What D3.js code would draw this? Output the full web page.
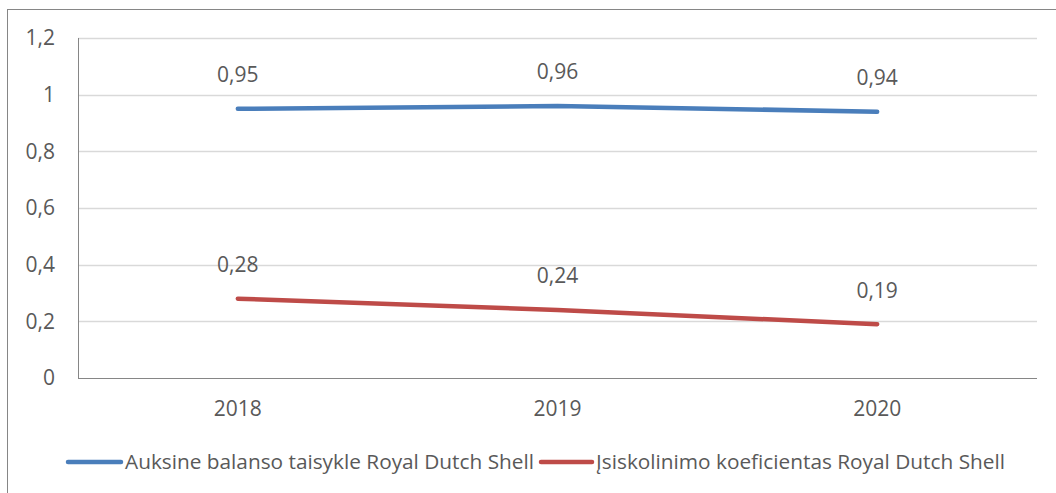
<!DOCTYPE html>
<html lang="lt">
<head>
  <meta charset="utf-8">
  <title>Royal Dutch Shell</title>
  <script src="https://d3js.org/d3.v7.min.js"></script>
  <style>
    body { margin: 0; background: #fff; }
    text { font-family: "Open Sans", "DejaVu Sans", sans-serif; fill: #595959; }
  </style>
</head>
<body>
  <div id="chart"></div>
  <script>
    // data
    var years = ["2018", "2019", "2020"];
    var auksine = [0.95, 0.96, 0.94];
    var isiskolinimo = [0.28, 0.24, 0.19];
    var seriesNames = ["Auksine balanso taisykle Royal Dutch Shell", "Įsiskolinimo koeficientas Royal Dutch Shell"];
    var yTicks = [0, 0.2, 0.4, 0.6, 0.8, 1, 1.2];

    var w = 1056, h = 493;
    var colors = ["#4a7ebb", "#be4b48"];
    var numSize = "21px";

    var svg = d3.select("#chart").append("svg")
      .attr("width", w)
      .attr("height", h);

    // outer frame (right and bottom fall outside the picture)
    svg.append("rect")
      .attr("x", 7.5).attr("y", 9.5)
      .attr("width", w + 20).attr("height", h + 20)
      .attr("fill", "none")
      .attr("stroke", "#868686")
      .attr("stroke-width", 1);

    var plotL = 78, plotR = 1037, plotT = 38, plotB = 378;

    var x = d3.scaleBand().domain(years).range([plotL, plotR]);
    var y = d3.scaleLinear().domain([0, 1.2]).range([plotB, plotT]);
    var fmt = function (v) { return String(v).replace(".", ","); };

    // grid lines
    svg.append("g")
      .selectAll("line")
      .data(yTicks.filter(function (d) { return d > 0; }))
      .enter().append("line")
      .attr("x1", plotL).attr("x2", plotR)
      .attr("y1", function (d) { return Math.round(y(d)) + 0.5; })
      .attr("y2", function (d) { return Math.round(y(d)) + 0.5; })
      .attr("stroke", "#d9d9d9")
      .attr("stroke-width", 1.3);

    // y tick labels
    svg.append("g")
      .selectAll("text")
      .data(yTicks)
      .enter().append("text")
      .attr("x", 55)
      .attr("y", function (d) { return y(d); })
      .attr("dy", "0.35em")
      .attr("text-anchor", "end")
      .style("font-size", numSize)
      .text(fmt);

    // axes lines
    svg.append("line")
      .attr("x1", plotL + 0.5).attr("x2", plotL + 0.5)
      .attr("y1", plotT).attr("y2", plotB)
      .attr("stroke", "#868686");
    svg.append("line")
      .attr("x1", plotL).attr("x2", plotR)
      .attr("y1", plotB + 0.5).attr("y2", plotB + 0.5)
      .attr("stroke", "#868686");

    // x tick labels
    svg.append("g")
      .selectAll("text")
      .data(years)
      .enter().append("text")
      .attr("x", function (d) { return x(d) + x.bandwidth() / 2; })
      .attr("y", 409)
      .attr("dy", "0.35em")
      .attr("text-anchor", "middle")
      .style("font-size", numSize)
      .text(function (d) { return d; });

    var line = d3.line()
      .x(function (d, i) { return x(years[i]) + x.bandwidth() / 2; })
      .y(function (d) { return y(d); });

    [auksine, isiskolinimo].forEach(function (vals, k) {
      svg.append("path")
        .datum(vals)
        .attr("d", line)
        .attr("fill", "none")
        .attr("stroke", colors[k])
        .attr("stroke-width", 4.5)
        .attr("stroke-linecap", "round");

      svg.append("g")
        .selectAll("text")
        .data(vals)
        .enter().append("text")
        .attr("x", function (d, i) { return x(years[i]) + x.bandwidth() / 2; })
        .attr("y", function (d) { return y(d) - 34; })
        .attr("dy", "0.35em")
        .attr("text-anchor", "middle")
        .style("font-size", numSize)
        .text(fmt);
    });

    // legend
    var legendItems = [
      { x1: 68, x2: 121, tx: 125 },
      { x1: 541, x2: 592, tx: 596 }
    ];
    legendItems.forEach(function (it, k) {
      svg.append("line")
        .attr("x1", it.x1).attr("x2", it.x2)
        .attr("y1", 462).attr("y2", 462)
        .attr("stroke", colors[k])
        .attr("stroke-width", 4.5)
        .attr("stroke-linecap", "round");
      svg.append("text")
        .attr("x", it.tx)
        .attr("y", 462)
        .attr("dy", "0.35em")
        .style("font-size", "20.8px")
        .text(seriesNames[k]);
    });
  </script>
</body>
</html>
